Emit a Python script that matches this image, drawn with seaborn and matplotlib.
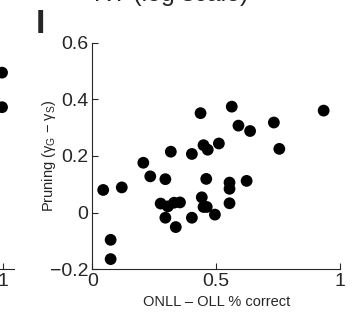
import matplotlib
matplotlib.use("Agg")
import matplotlib.pyplot as plt
import seaborn as sns
import pandas as pd

# ONLL - OLL accuracy difference vs. pruning (gamma_G - gamma_S), one dot per subject
acc_diff = [0.044, 0.119, 0.074, 0.074, 0.206, 0.234, 0.295, 0.317, 0.276, 0.305,
            0.330, 0.354, 0.295, 0.337, 0.402, 0.402, 0.437, 0.449, 0.466, 0.511,
            0.460, 0.442, 0.449, 0.462, 0.495, 0.554, 0.554, 0.554, 0.563, 0.590,
            0.637, 0.623, 0.733, 0.755, 0.934]
pruning = [0.080, 0.089, -0.096, -0.164, 0.176, 0.128, 0.118, 0.215, 0.032, 0.022,
           0.035, 0.036, -0.018, -0.051, -0.018, 0.207, 0.351, 0.238, 0.222, 0.244,
           0.119, 0.054, 0.020, 0.020, -0.007, 0.106, 0.084, 0.033, 0.374, 0.307,
           0.288, 0.112, 0.318, 0.225, 0.360]

# neighbouring panel (only its right edge falls inside the figure)
prev_x = [0.994, 0.994]
prev_y = [0.494, 0.372]

x_ticks = [0, 0.5, 1]
x_tick_labels = ["0", "0.5", "1"]
y_ticks = [-0.2, 0, 0.2, 0.4, 0.6]
y_tick_labels = ["\u22120.2", "0", "0.2", "0.4", "0.6"]

sns.set_style("ticks")
plt.rcParams["font.family"] = ["Liberation Sans", "DejaVu Sans"]
plt.rcParams["mathtext.default"] = "regular"

INK = "#262626"
W, H = 356, 324
fig = plt.figure(figsize=(W / 100, H / 100), dpi=100)

left, right = 92.3 / W, 340.0 / W
bottom, top = 1 - 269.3 / H, 1 - 42.6 / H

def style_axes(ax):
    sns.despine(ax=ax)
    for side in ("left", "bottom"):
        ax.spines[side].set_color(INK)
        ax.spines[side].set_linewidth(0.8)
    ax.tick_params(direction="in", length=4, width=0.8, color=INK,
                   labelcolor=INK, labelsize=14, pad=3)

# partial neighbouring panel on the left
ax0 = fig.add_axes([-0.5, bottom, 0.5 + 14 / W, top - bottom])
sns.scatterplot(x=prev_x, y=prev_y, ax=ax0, color="black", s=72,
                edgecolor="none", clip_on=False)
ax0.set_xlim(0, 1.06)
ax0.set_ylim(-0.2, 0.6)
ax0.set_xticks([1])
ax0.set_xticklabels(["1"])
ax0.set_yticks([])
style_axes(ax0)
ax0.spines["left"].set_visible(False)

# main panel
ax = fig.add_axes([left, bottom, right - left, top - bottom])
df = pd.DataFrame({"acc": acc_diff, "prune": pruning})
sns.scatterplot(data=df, x="acc", y="prune", ax=ax, color="black", s=72,
                edgecolor="none", clip_on=False)
ax.set_xlim(0, 1)
ax.set_ylim(-0.2, 0.6)
ax.set_xticks(x_ticks)
ax.set_xticklabels(x_tick_labels)
ax.set_yticks(y_ticks)
ax.set_yticklabels(y_tick_labels)
style_axes(ax)
ax.set_xlabel("ONLL \u2013 OLL % correct", fontsize=10.5, color=INK, labelpad=3)
ax.set_ylabel("Pruning (\u03b3$_G$ \u2212 \u03b3$_S$)", fontsize=10.5, color=INK)
ax.yaxis.set_label_coords(-0.137, 0.5)

# panel letter and the caption of the row above
fig.text(36 / W, 1 - 33 / H, "I", fontsize=24.5, fontweight="bold",
         color=INK, ha="left", va="baseline")
fig.text(171 / W, 1 - 0.5 / H, "RT (log scale)", fontsize=18,
         color=INK, ha="center", va="baseline")

fig.savefig("out.png", dpi=100)
